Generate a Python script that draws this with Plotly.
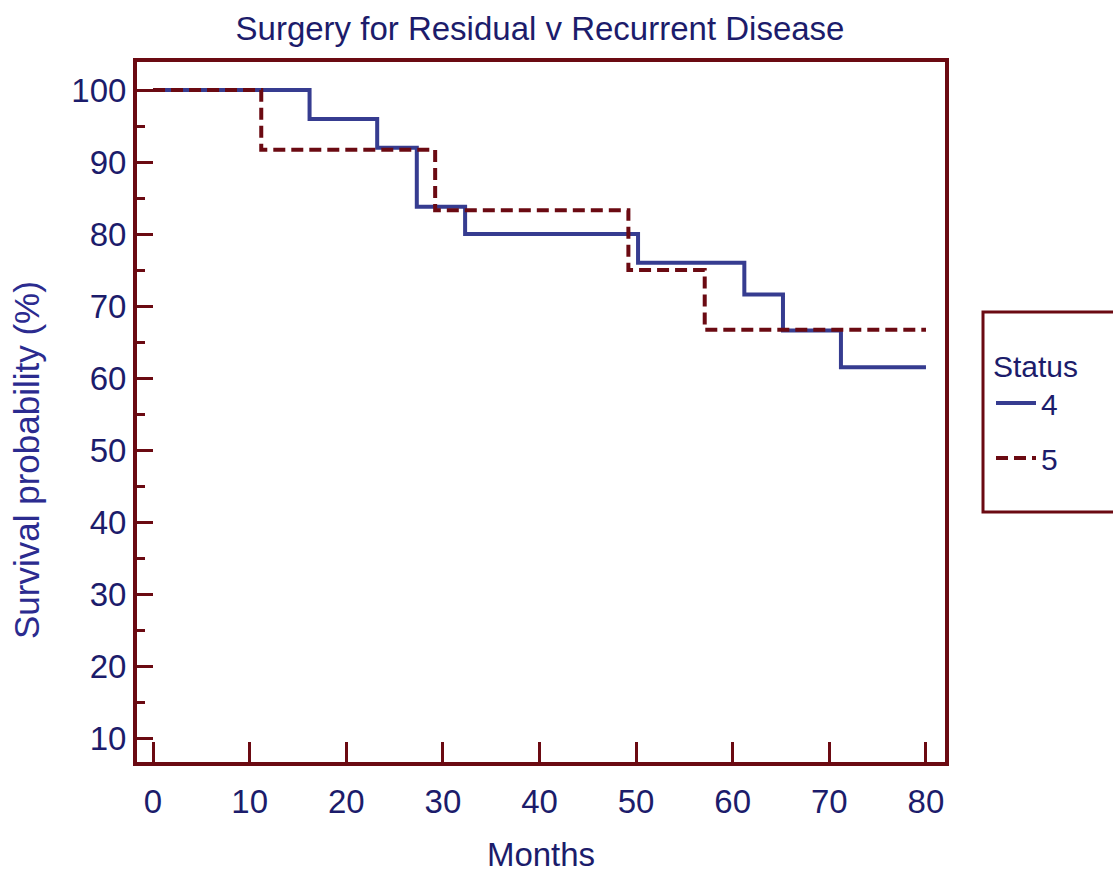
import plotly.graph_objects as go

# Data (Kaplan-Meier step curves)
months_4 = [0, 16.2, 23.2, 27.3, 32.3, 50.2, 61.2, 65.2, 71.2, 80]
surv_4 = [100, 96.0, 92.0, 83.8, 80.0, 76.0, 71.6, 66.6, 61.5, 61.5]

months_5 = [0, 11.2, 29.2, 49.2, 57.1, 80]
surv_5 = [100, 91.7, 83.3, 75.0, 66.7, 66.7]

x_ticks = [0, 10, 20, 30, 40, 50, 60, 70, 80]
y_ticks = [10, 20, 30, 40, 50, 60, 70, 80, 90, 100]

FONT = "Liberation Sans, Arial, sans-serif"
FRAME = "#6B0A12"
NAVY = "#1C1C6B"
BLUE = "#363C90"

W, H = 1113, 881
L, R, T, B = 137, 168, 62, 119
pw, ph = W - L - R, H - T - B

fig = go.Figure()
fig.add_trace(go.Scatter(x=months_4, y=surv_4, mode="lines", name="4", legendgroup="g4",
                         line=dict(shape="hv", color=BLUE, width=4)))
fig.add_trace(go.Scatter(x=months_5, y=surv_5, mode="lines", name="5", legendgroup="g5",
                         line=dict(shape="hv", color=FRAME, width=4, dash="12px,6px")))

def px_x(p):
    return (p - L) / pw

def px_y(p):
    return (H - B - p) / ph

fig.update_layout(
    width=W, height=H,
    margin=dict(l=L, r=R, t=T, b=B, pad=0),
    paper_bgcolor="white", plot_bgcolor="white",
    font=dict(family=FONT, color=NAVY, size=33),
    title=dict(text="Surgery for Residual v Recurrent Disease",
               x=px_x(540), xref="paper", xanchor="center",
               y=1 - 28 / H, yref="container", yanchor="middle",
               font=dict(size=33, color=NAVY, family=FONT)),
    xaxis=dict(range=[-1.66, 81.97], tickvals=x_ticks, ticks="inside", ticklen=20,
               tickwidth=3, tickcolor=FRAME, showline=True, linecolor=FRAME,
               linewidth=4, mirror=True, showgrid=False, zeroline=False,
               ticklabelstandoff=7,
               tickfont=dict(size=33, color=NAVY, family=FONT),
               title=dict(text="Months", standoff=25,
                          font=dict(size=33, color=NAVY, family=FONT))),
    yaxis=dict(range=[6.67, 103.9], tickvals=y_ticks, ticks="inside", ticklen=16,
               tickwidth=3, tickcolor=FRAME, showline=True, linecolor=FRAME,
               linewidth=4, mirror=True, showgrid=False, zeroline=False,
               ticklabelstandoff=0,
               tickfont=dict(size=33, color=NAVY, family=FONT),
               minor=dict(dtick=5, tick0=0, ticks="inside", ticklen=8,
                          tickwidth=3, tickcolor=FRAME, showgrid=False)),
    legend=dict(x=px_x(991), xanchor="left", y=px_y(338), yanchor="top",
                bgcolor="rgba(0,0,0,0)", borderwidth=0,
                traceorder="grouped", tracegroupgap=13,
                title=dict(text="Status", font=dict(size=30, color=NAVY, family=FONT)),
                font=dict(size=30, color=NAVY, family=FONT),
                itemwidth=40),
    showlegend=True,
)

# legend frame (extends past the right edge, as in the reference)
fig.add_shape(type="rect", xref="paper", yref="paper",
              x0=px_x(983), x1=px_x(1130), y0=px_y(512), y1=px_y(312),
              line=dict(color=FRAME, width=3), fillcolor="rgba(0,0,0,0)")

# y-axis title, placed as in the reference
fig.add_annotation(text="Survival probability (%)", xref="paper", yref="paper",
                   x=px_x(27), y=px_y(460), xanchor="center", yanchor="middle",
                   textangle=-90, showarrow=False,
                   font=dict(size=35, color="#2B2B8F", family=FONT))

fig.write_html("out.html", config={"displayModeBar": False},
               post_script="document.body.style.margin='0';")
